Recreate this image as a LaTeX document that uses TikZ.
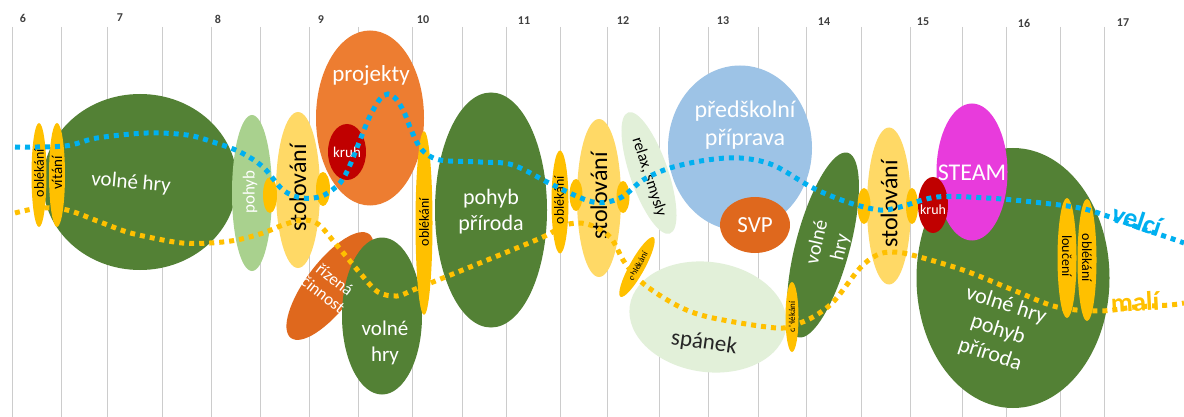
\documentclass[tikz,border=0pt]{standalone}
\usepackage{fontspec}
\setmainfont{Carlito}
\usetikzlibrary{shapes.geometric}
\definecolor{grn}{HTML}{538135}
\definecolor{ltgrn}{HTML}{A9D18E}
\definecolor{pgrn}{HTML}{E2F0D9}
\definecolor{ylw}{HTML}{FFC000}
\definecolor{ltylw}{HTML}{FFD966}
\definecolor{org}{HTML}{ED7D31}
\definecolor{dorg}{HTML}{DF681D}
\definecolor{dred}{HTML}{C00000}
\definecolor{lblue}{HTML}{9DC3E6}
\definecolor{mag}{HTML}{E83BDC}
\definecolor{cblue}{HTML}{00B0F0}
\definecolor{gridgray}{HTML}{CCCCCC}
\definecolor{hrgray}{HTML}{404040}
\definecolor{spgray}{HTML}{262626}
\begin{document}
\begin{tikzpicture}
      [x=1pt,y=-1pt
      ,ell/.style n args={3}{ellipse,inner sep=0,fill=#1,minimum width=#2pt,minimum height=#3pt}
      ,grd/.style={draw=gridgray,line width=1pt}
      ,hr/.style={font=\bfseries\fontsize{12}{14}\selectfont,text=hrgray}
      ,wt/.style={text=white,align=center,inner sep=0}
      ,bt/.style={text=black,align=center,inner sep=0}
      ,sz/.style={font=\fontsize{#1}{#1}\selectfont}
      ,dotline/.style={draw=#1,line width=5pt,dash pattern=on 5pt off 5pt}]
        \fill[white] (0,0) rectangle (1184,417);
        \useasboundingbox (0,0) rectangle (1184,417);
        \foreach \x in {12,61,107,162,211,260,309,358,412,462,506,560,607,659,708,758,806,861,910,962,1006,1060,1104}{
          \draw[grd] (\x,27) -- (\x,417);
        }
        \foreach \x/\y/\h in {23/18/6,120/18/7,218/19/8,321/20/9,423/20/10,524/21/11,623/21/12,723/21/13,824/22/14,923/22/15,1024/23/16,1123/23/17}{
          \node[hr] (h\h) at (\x,\y) {\h};
        }
        \node[ell={grn}{194}{176}] (vh1) at (140,182) {};
        \node[ell={ltgrn}{40}{156}] (poh1) at (252,193) {};
        \node[ell={ylw}{15}{104}] (obl1) at (39,175) {};
        \node[ell={ylw}{16}{104}] (vit) at (57,175) {};
        \node[ell={ltylw}{44}{156}] (stol1) at (298,190) {};
        \node[ell={ylw}{14}{36}] (s1a) at (270,195) {};
        \node[ell={org}{108}{175}] (proj) at (370,118) {};
        \node[ell={ylw}{14}{34}] (s1b) at (323,189) {};
        \node[ell={dred}{38}{56}] (kruh1) at (347,152) {};
        \node[ell={dorg}{130}{48},rotate=53] (riz) at (330,286) {};
        \node[ell={grn}{80}{157}] (vh2) at (382,316) {};
        \node[ell={ylw}{17}{184}] (obl2) at (424,223) {};
        \node[ell={grn}{112}{235}] (pp) at (491,210) {};
        \node[ell={ylw}{17}{103}] (obl3) at (560,202) {};
        \node[ell={ltylw}{44}{158}] (stol2) at (599,198) {};
        \node[ell={pgrn}{38}{128},rotate=19] (relax) at (649,173) {};
        \node[ell={ylw}{13}{32}] (s2a) at (576,195) {};
        \node[ell={ylw}{13}{32}] (s2b) at (623,197) {};
        \node[ell={lblue}{144}{165}] (pred) at (740,148) {};
        \node[ell={dorg}{70}{56}] (svp) at (755,225) {};
        \node[ell={pgrn}{158}{110},rotate=-8] (span) at (708,317) {};
        \node[ell={ylw}{68}{15},rotate=61] (obl4) at (637,267) {};
        \node[ell={grn}{54}{191},rotate=-15] (vh3) at (823,245) {};
        \node[ell={ylw}{13}{70}] (obl5) at (792,317) {};
        \node[ell={ltylw}{44}{157}] (stol3) at (889,206) {};
        \node[ell={ylw}{13}{36}] (s3a) at (864,206) {};
        \node[ell={ylw}{12}{36}] (s3b) at (912,206) {};
        \node[ell={grn}{193}{260}] (vh4) at (1013,278) {};
        \node[ell={mag}{71}{137}] (steam) at (972,172) {};
        \node[ell={dred}{30}{56}] (kruh2) at (933,205) {};
        \node[ell={ylw}{19}{120}] (louc) at (1067,258) {};
        \node[ell={ylw}{19}{122}] (obl6) at (1087,260) {};
        % texts
        \node[wt,sz=21,rotate=-5] (tvh1) at (131,183) {volné hry};
        \node[wt,sz=17,rotate=90] (tpoh1) at (250,192) {pohyb};
        \node[bt,sz=14,rotate=90] (tobl1) at (39,173) {oblékání};
        \node[bt,sz=15,rotate=90] (tvit) at (57,173) {vítání};
        \node[bt,sz=24,rotate=90] (tstol1) at (298,188) {stolování};
        \node[wt,sz=23] (tproj) at (371,75) {projekty};
        \node[wt,sz=15] (tkruh1) at (347,152) {kruh};
        \node[wt,font=\fontsize{17}{19}\selectfont,rotate=-38] (triz) at (329,287) {řízená\\činnost};
        \node[wt,font=\fontsize{21}{26}\selectfont] (tvh2) at (385,343) {volné\\hry};
        \node[bt,sz=14,rotate=90] (tobl2) at (424,222) {oblékání};
        \node[wt,font=\fontsize{22}{26}\selectfont] (tpp) at (491,212) {pohyb\\příroda};
        \node[bt,sz=14,rotate=90] (tobl3) at (559,200) {oblékání};
        \node[bt,sz=24,rotate=90] (tstol2) at (599,196) {stolování};
        \node[bt,sz=16,rotate=-72] (trelax) at (649,177) {relax, smysly};
        \node[wt,font=\fontsize{24}{28}\selectfont] (tpred) at (745,125) {předškolní\\příprava};
        \node[wt,sz=23] (tsvp) at (755,225) {SVP};
        \node[text=spgray,sz=23,rotate=-8,inner sep=0] (tspan) at (704,343) {spánek};
        \node[bt,sz=9,rotate=61] (tobl4) at (638,266) {oblékání};
        \node[bt,sz=9,rotate=90] (tobl5) at (792,317) {oblékání};
        \node[wt,font=\fontsize{20}{24}\selectfont,rotate=77] (tvh3) at (829,245) {volné\\hry};
        \node[bt,sz=24,rotate=90] (tstol3) at (889,204) {stolování};
        \node[wt,sz=14] (tkruh2) at (933,210) {kruh};
        \node[wt,sz=24] (tsteam) at (972,173) {STEAM};
        \node[wt,font=\fontsize{22}{26}\selectfont,rotate=-18] (tvh4) at (998,330) {volné hry\\pohyb\\příroda};
        \node[bt,sz=14,rotate=-90] (tlouc) at (1067,256) {loučení};
        \node[bt,sz=14,rotate=-90] (tobl6) at (1087,258) {oblékání};
        % dotted lines
        \draw[dotline=cblue] plot[smooth,tension=.55] coordinates {(15,147) (65,146) (97,138) (147,133) (187,135) (213,142) (240,152) (263,167) (283,190) (302,198) (322,196) (340,183) (350,165) (360,140) (370,116) (380,99) (388,94) (396,99) (404,112) (412,132) (422,150) (440,160) (480,162) (513,165) (553,185) (593,202) (620,198) (643,180) (670,168) (707,160) (740,158) (773,165) (813,188) (850,203) (880,210) (900,207) (937,197) (987,198) (1033,202) (1080,208) (1110,217) (1140,228) (1170,238) (1184,243)};
        \draw[dotline=ylw] plot[smooth,tension=.55] coordinates {(15,213) (40,208) (67,210) (100,222) (127,232) (153,238) (182,243) (210,243) (237,240) (263,233) (283,225) (302,220) (318,224) (335,243) (360,273) (378,292) (397,296) (413,290) (433,282) (480,263) (543,237) (565,225) (587,224) (610,237) (625,263) (645,285) (680,307) (713,318) (777,328) (800,323) (818,314) (835,300) (860,268) (877,255) (892,252) (912,255) (963,270) (1013,290) (1057,307) (1100,311) (1135,307) (1170,305) (1184,303)};
        \node[text=cblue,font=\bfseries\fontsize{27}{27}\selectfont,rotate=-18] (velci) at (1137,220) {velcí};
        \node[text=ylw,font=\bfseries\fontsize{27}{27}\selectfont,rotate=3] (mali) at (1135,302) {malí};
      \end{tikzpicture}
\end{document}
